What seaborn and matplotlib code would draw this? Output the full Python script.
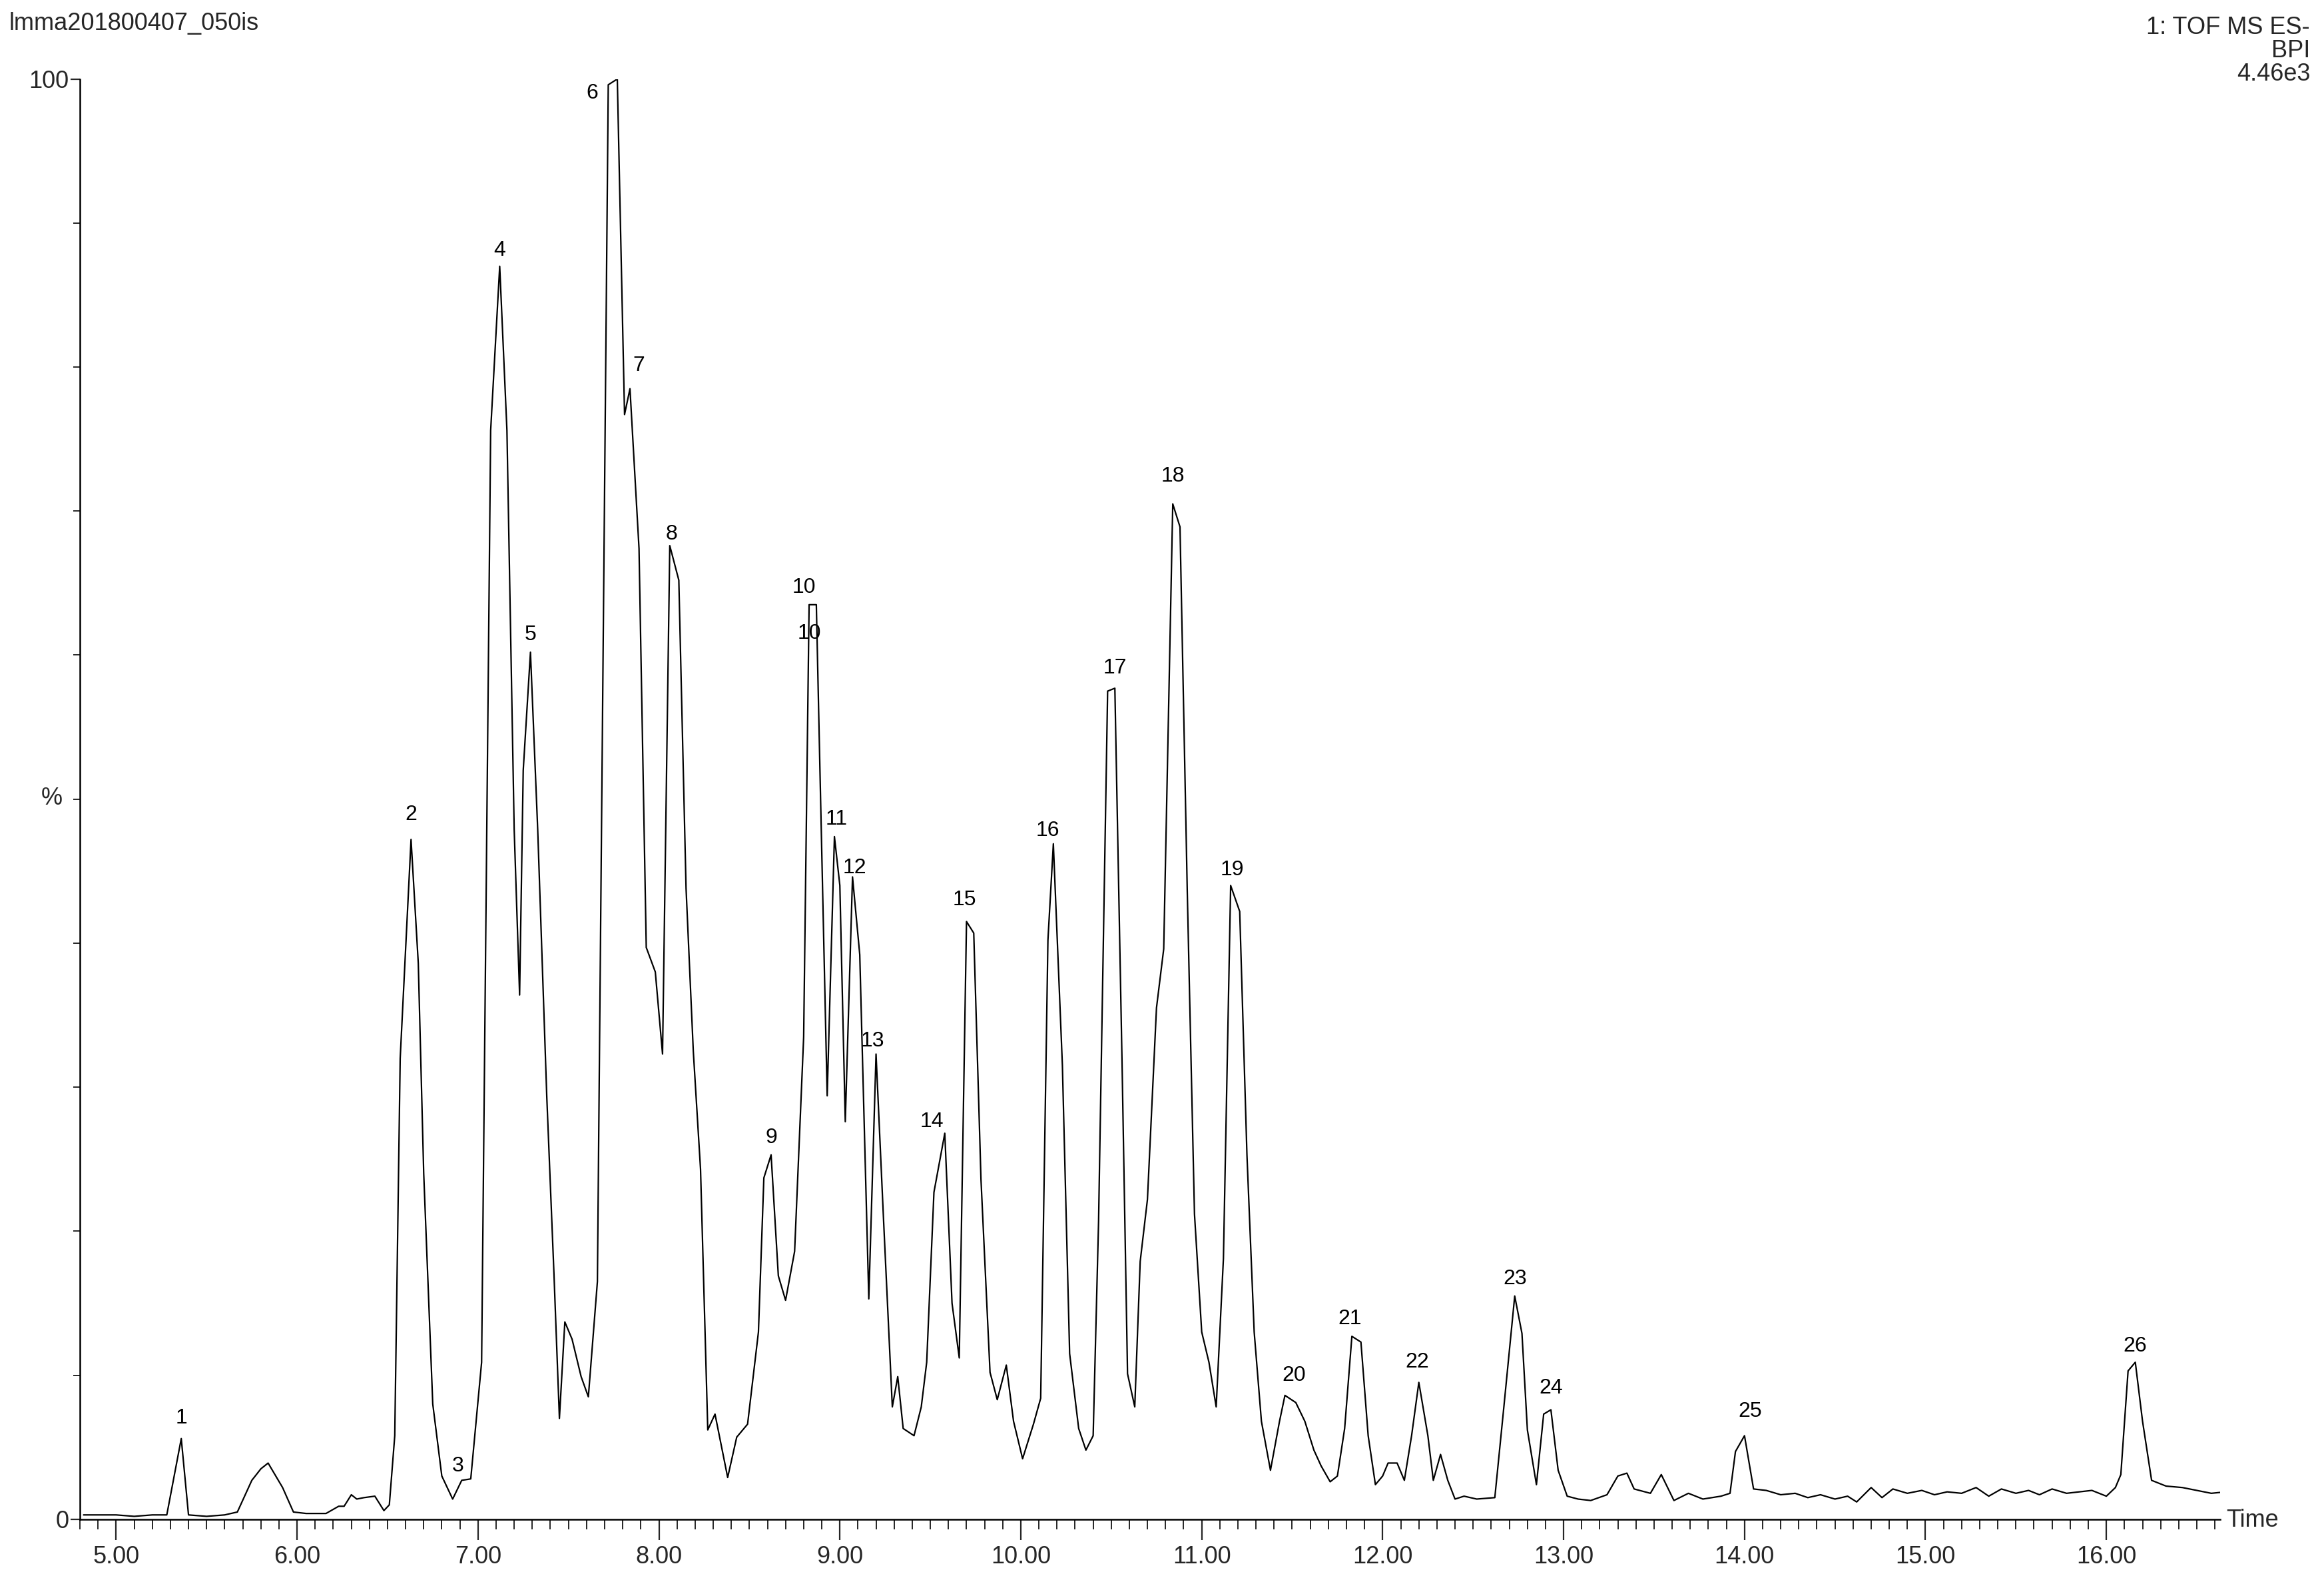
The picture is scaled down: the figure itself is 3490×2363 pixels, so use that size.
import matplotlib
matplotlib.use("Agg")
import matplotlib.pyplot as plt
import seaborn as sns
import numpy as np
import pandas as pd
from matplotlib.ticker import MultipleLocator, FixedLocator

sns.set_theme(style="white")
plt.rcParams['font.family'] = ['Liberation Sans', 'DejaVu Sans']

times = [4.82, 4.9, 5.0, 5.1, 5.2, 5.28, 5.36, 5.40, 5.5, 5.6, 5.67, 5.75, 5.80, 5.84, 5.92, 5.98, 6.05, 6.16, 6.23, 6.26, 6.30, 6.33, 6.37,
         6.43, 6.48, 6.51, 6.54, 6.57, 6.63, 6.67, 6.70, 6.75, 6.80, 6.86, 6.91, 6.96, 7.02, 7.07, 7.12,
         7.16, 7.20, 7.23, 7.25, 7.29, 7.33, 7.38, 7.42, 7.45, 7.48, 7.52, 7.57, 7.61, 7.66, 7.72, 7.77,
         7.81, 7.84, 7.89, 7.93, 7.98, 8.02, 8.06, 8.11, 8.15, 8.19, 8.23, 8.27, 8.31, 8.38, 8.43, 8.49,
         8.55, 8.58, 8.62, 8.66, 8.70, 8.75, 8.80, 8.83, 8.87, 8.89, 8.93, 8.97, 9.00, 9.03, 9.07, 9.11,
         9.16, 9.20, 9.24, 9.29, 9.32, 9.35, 9.41, 9.45, 9.48, 9.52, 9.58, 9.62, 9.66, 9.70, 9.74, 9.78,
         9.83, 9.87, 9.92, 9.96, 10.01, 10.07, 10.11, 10.15, 10.18, 10.23, 10.27, 10.32, 10.36, 10.40,
         10.43, 10.48, 10.52, 10.56, 10.59, 10.63, 10.66, 10.70, 10.75, 10.79, 10.84, 10.88, 10.92,
         10.96, 11.00, 11.04, 11.08, 11.12, 11.16, 11.21, 11.25, 11.29, 11.33, 11.38, 11.43, 11.46,
         11.52, 11.57, 11.62, 11.66, 11.71, 11.75, 11.79, 11.83, 11.88, 11.92, 11.96, 12.00, 12.03,
         12.08, 12.12, 12.16, 12.20, 12.25, 12.28, 12.32, 12.36, 12.40, 12.45, 12.52, 12.62, 12.67,
         12.73, 12.77, 12.80, 12.85, 12.89, 12.93, 12.97, 13.02, 13.08, 13.15, 13.24, 13.30, 13.35,
         13.39, 13.48, 13.54, 13.61, 13.69, 13.77, 13.87, 13.92, 13.95, 14.00, 14.05, 14.12, 14.20,
         14.28, 14.35, 14.42, 14.50, 14.57, 14.62, 14.70, 14.76, 14.82, 14.90, 14.98, 15.05, 15.12,
         15.20, 15.28, 15.35, 15.42, 15.50, 15.57, 15.63, 15.70, 15.78, 15.85, 15.92, 16.00, 16.05,
         16.08, 16.12, 16.16, 16.20, 16.25, 16.33, 16.42, 16.50, 16.58, 16.66]
intensity = [0.3, 0.3, 0.3, 0.2, 0.3, 0.3, 5.6, 0.3, 0.2, 0.3, 0.5, 2.7, 3.5, 3.9, 2.2, 0.5, 0.4, 0.4, 0.9, 0.9, 1.7, 1.4, 1.5,
             1.6, 0.6, 1.0, 5.8, 32.0, 47.2, 38.6, 24.0, 8.0, 3.0, 1.4, 2.7, 2.8, 10.9, 75.6, 87.0,
             75.6, 47.9, 36.4, 52.0, 60.2, 47.9, 29.4, 17.0, 7.0, 13.7, 12.5, 9.9, 8.5, 16.5, 99.6, 100.0,
             76.7, 78.5, 67.4, 39.7, 38.0, 32.3, 67.6, 65.2, 43.8, 32.5, 24.3, 6.2, 7.3, 2.9, 5.7, 6.6,
             13.0, 23.7, 25.3, 16.9, 15.2, 18.6, 33.5, 63.5, 63.5, 52.0, 29.4, 47.4, 44.0, 27.6, 44.6, 39.2,
             15.3, 32.3, 21.2, 7.8, 9.9, 6.3, 5.8, 7.8, 10.9, 22.7, 26.8, 15.0, 11.2, 41.5, 40.7, 23.6,
             10.2, 8.3, 10.7, 6.8, 4.2, 6.6, 8.4, 40.2, 46.9, 31.5, 11.5, 6.3, 4.8, 5.8,
             20.7, 57.5, 57.7, 31.5, 10.1, 7.8, 17.9, 22.2, 35.5, 39.6, 70.5, 68.9, 43.7,
             21.2, 13.0, 10.9, 7.8, 18.1, 44.0, 42.2, 25.3, 13.0, 6.8, 3.4, 6.8, 8.6,
             8.1, 6.8, 4.8, 3.7, 2.6, 3.0, 6.3, 12.7, 12.3, 5.8, 2.4, 3.0, 3.9,
             3.9, 2.7, 5.8, 9.5, 5.8, 2.7, 4.5, 2.7, 1.4, 1.6, 1.4, 1.5, 7.8,
             15.5, 12.9, 6.2, 2.4, 7.3, 7.6, 3.4, 1.6, 1.4, 1.3, 1.7, 3.0, 3.2,
             2.1, 1.8, 3.1, 1.3, 1.8, 1.4, 1.6, 1.8, 4.7, 5.8, 2.1, 2.0, 1.7,
             1.8, 1.5, 1.7, 1.4, 1.6, 1.2, 2.2, 1.5, 2.1, 1.8, 2.0, 1.7, 1.9,
             1.8, 2.2, 1.6, 2.1, 1.8, 2.0, 1.7, 2.1, 1.8, 1.9, 2.0, 1.6, 2.2,
             3.1, 10.3, 10.9, 6.8, 2.7, 2.3, 2.2, 2.0, 1.8, 1.9]

peak_labels = ["1", "2", "3", "4", "5", "6", "7", "8", "9", "10", "10", "11", "12", "13", "14", "15",
               "16", "17", "18", "19", "20", "21", "22", "23", "24", "25", "26"]
label_time = [5.36, 6.63, 6.89, 7.12, 7.29, 7.63, 7.89, 8.07, 8.62, 8.80, 8.83, 8.98, 9.08, 9.18, 9.51,
              9.69, 10.15, 10.52, 10.84, 11.17, 11.51, 11.82, 12.19, 12.73, 12.93, 14.03, 16.16]
label_val = [7.0, 48.9, 3.7, 88.1, 61.4, 99.0, 80.1, 68.4, 26.5, 64.7, 61.5, 48.6, 45.2, 33.2, 27.6,
             43.0, 47.8, 59.1, 72.4, 45.1, 10.0, 13.9, 10.9, 16.7, 9.1, 7.5, 12.0]

df = pd.DataFrame({"Time": times, "pct": intensity})

fig = plt.figure(figsize=(34.9, 23.63), dpi=100)
ax = fig.add_axes([0.0344, 0.0348, 0.921, 0.915])
sns.lineplot(data=df, x="Time", y="pct", ax=ax, color="black", linewidth=1.6)

for t, v, s in zip(label_time, label_val, peak_labels):
    ax.text(t, v, s, ha="center", va="center", fontsize=23, color="black")

ax.set_xlim(4.8, 16.63)
ax.set_ylim(0, 100)
ax.xaxis.set_major_locator(FixedLocator([5, 6, 7, 8, 9, 10, 11, 12, 13, 14, 15, 16]))
ax.xaxis.set_major_formatter(matplotlib.ticker.FormatStrFormatter("%.2f"))
ax.xaxis.set_minor_locator(MultipleLocator(0.1))
ax.set_yticks([0, 100])
ax.set_yticklabels(["0", "100"])
ax.yaxis.set_minor_locator(MultipleLocator(10))
ax.tick_params(axis="x", which="major", direction="out", length=22, width=1.6, labelsize=26, pad=6, bottom=True)
ax.tick_params(axis="x", which="minor", direction="out", length=11, width=1.4, bottom=True)
ax.tick_params(axis="y", which="major", direction="out", length=10, width=1.6, labelsize=26, pad=2, left=True)
ax.tick_params(axis="y", which="minor", direction="out", length=7, width=1.4, left=True)
for sp in ["top", "right"]:
    ax.spines[sp].set_visible(False)
for sp in ["left", "bottom"]:
    ax.spines[sp].set_color("black")
    ax.spines[sp].set_linewidth(1.8)
ax.set_xlabel("")
ax.set_ylabel("")
ax.grid(False)
fig.text(0.0344 - 0.012, 0.493, "%", fontsize=26, ha="center", va="center")
fig.text(0.958, 0.034, "Time", fontsize=26, ha="left", va="center")
fig.text(0.004, 0.985, "lmma201800407_050is", fontsize=26, ha="left", va="center")
fig.text(0.994, 0.990, "1: TOF MS ES-\nBPI\n4.46e3", fontsize=26, ha="right", va="top", linespacing=1.0)

fig.savefig("out.png", dpi=100, facecolor="white")
